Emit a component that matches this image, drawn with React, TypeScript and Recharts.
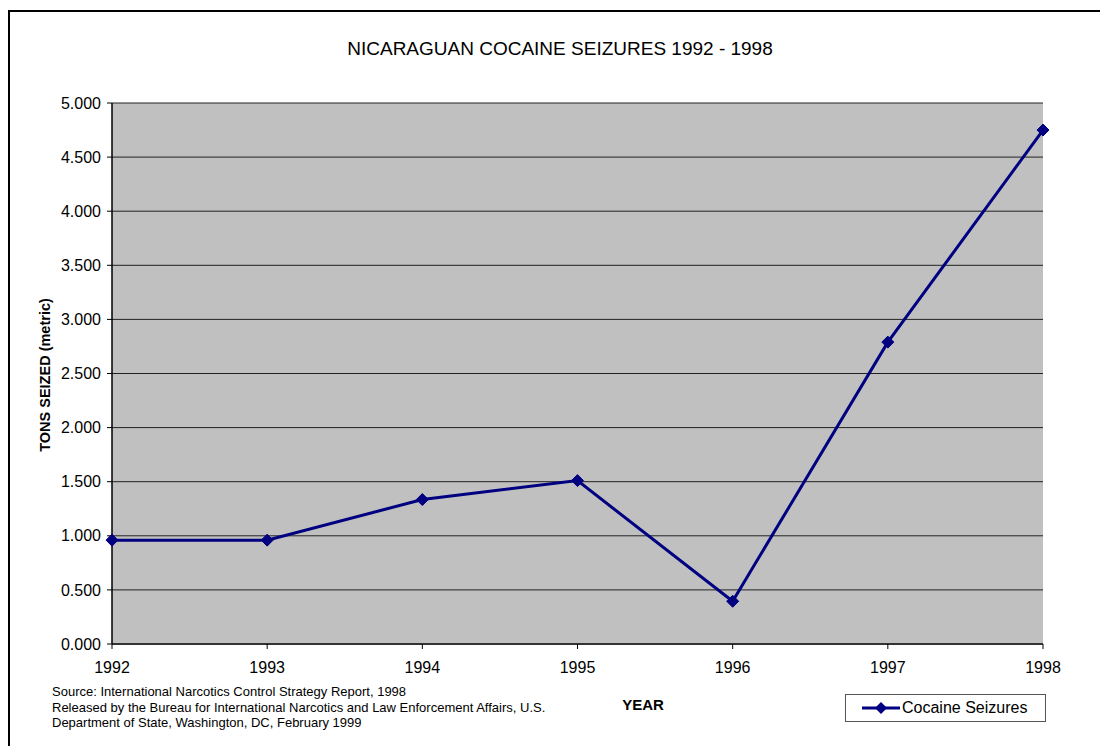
import React from "react";
import { LineChart, Line, XAxis, YAxis, CartesianGrid, Customized } from "recharts";

const years = ["1992", "1993", "1994", "1995", "1996", "1997", "1998"];
const seizures = [0.96, 0.96, 1.335, 1.51, 0.395, 2.79, 4.75];
const yTicks = [0, 0.5, 1, 1.5, 2, 2.5, 3, 3.5, 4, 4.5, 5];

const data = years.map((y, i) => ({ year: y, value: seizures[i] }));

const FONT = "Arial, 'Liberation Sans', Helvetica, sans-serif";
const NAVY = "#000080";

const Diamond = (props: any) => {
  const { cx, cy } = props;
  if (cx == null || cy == null) return null;
  const r = 6;
  return (
    <path
      d={`M${cx},${cy - r} L${cx + r},${cy} L${cx},${cy + r} L${cx - r},${cy} Z`}
      fill={NAVY}
      stroke={NAVY}
      strokeWidth={1}
    />
  );
};

const PlotFrame = (props: any) => {
  const { offset } = props;
  if (!offset) return null;
  const { left, top, width, height } = offset;
  return (
    <g>
      <line x1={left} y1={top} x2={left + width} y2={top} stroke="#808080" strokeWidth={1.5} />
      <line x1={left + width} y1={top} x2={left + width} y2={top + height} stroke="#808080" strokeWidth={1.5} />
    </g>
  );
};

export default function App() {
  return (
    <div style={{ position: "absolute", left: 0, top: 0, width: 1100, height: 746, background: "#fff", overflow: "hidden", fontFamily: FONT }}>
      <div
        style={{
          position: "absolute",
          left: 8,
          top: 10,
          width: 1200,
          height: 800,
          border: "2px solid #000",
          boxSizing: "border-box",
        }}
      />
      <div style={{ position: "absolute", left: 0, top: 37, width: 1120, textAlign: "center", fontSize: 19, lineHeight: "24px", color: "#000" }}>
        NICARAGUAN COCAINE SEIZURES 1992 - 1998
      </div>
      <div style={{ position: "absolute", left: 52, top: 684, fontSize: 13, lineHeight: "15.5px", color: "#000", whiteSpace: "nowrap" }}>
        Source: International Narcotics Control Strategy Report, 1998
        <br />
        Released by the Bureau for International Narcotics and Law Enforcement Affairs, U.S.
        <br />
        Department of State, Washington, DC, February 1999
      </div>
      <div style={{ position: "absolute", left: 603, top: 696, width: 80, textAlign: "center", fontSize: 15, lineHeight: "18px", fontWeight: "bold" }}>
        YEAR
      </div>
      <div
        style={{
          position: "absolute",
          left: 45,
          top: 375,
          transform: "translate(-50%, -50%) rotate(-90deg)",
          whiteSpace: "nowrap",
          fontSize: 14.5,
          fontWeight: "bold",
        }}
      >
        TONS SEIZED (metric)
      </div>
      <div
        style={{
          position: "absolute",
          left: 845,
          top: 694,
          width: 201,
          height: 28,
          border: "1px solid #555",
          background: "#fff",
          boxSizing: "border-box",
          fontSize: 16,
          color: "#000",
        }}
      >
        <svg width={40} height={14} style={{ position: "absolute", left: 16, top: 6 }}>
          <line x1={0} y1={7} x2={38} y2={7} stroke={NAVY} strokeWidth={3} />
          <path d="M19,1 L25,7 L19,13 L13,7 Z" fill={NAVY} />
        </svg>
        <span style={{ position: "absolute", left: 56, top: 4, lineHeight: "18px", whiteSpace: "nowrap" }}>Cocaine Seizures</span>
      </div>
      <div style={{ position: "absolute", left: 0, top: 0 }}>
        <LineChart width={1100} height={746} data={data} margin={{ top: 103, right: 57, bottom: 72, left: 52 }}>
          <CartesianGrid vertical={false} horizontal={true} stroke="#222" strokeWidth={1} fill="#C0C0C0" fillOpacity={1} />
          <Customized component={PlotFrame} />
          <XAxis
            dataKey="year"
            interval={0}
            tickLine={{ stroke: "#000" }}
            tickSize={5}
            axisLine={{ stroke: "#333", strokeWidth: 2 }}
            tick={{ fill: "#000", fontSize: 16, fontFamily: FONT, dy: 11 }}
            height={30}
          />
          <YAxis
            domain={[0, 5]}
            ticks={yTicks}
            interval={0}
            tickFormatter={(v: number) => v.toFixed(3)}
            tickLine={{ stroke: "#000" }}
            tickSize={5}
            tickMargin={6}
            axisLine={{ stroke: "#000", strokeWidth: 1.5 }}
            tick={{ fill: "#000", fontSize: 16, fontFamily: FONT }}
            width={60}
          />
          <Line
            type="linear"
            dataKey="value"
            name="Cocaine Seizures"
            stroke={NAVY}
            strokeWidth={3}
            dot={<Diamond />}
            activeDot={false}
            isAnimationActive={false}
          />
        </LineChart>
      </div>
    </div>
  );
}
